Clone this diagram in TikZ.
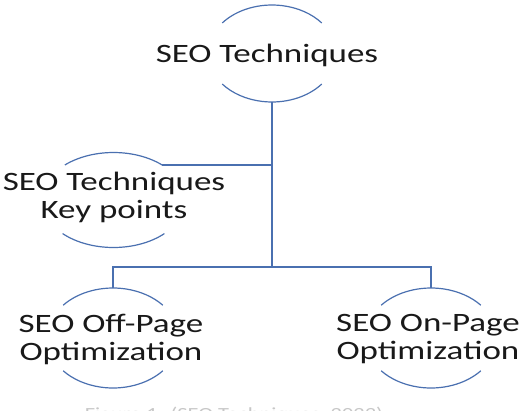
\documentclass[tikz,border=0pt]{standalone}
\usepackage{fontspec}
\setmainfont{Carlito}[FakeStretch=1.32]
\definecolor{lineblue}{RGB}{74,112,176}
\definecolor{txtcol}{RGB}{25,25,25}
\tikzset{
  arcline/.style={draw=lineblue,line width=1.2pt},
  conn/.style={draw=lineblue,line width=1.2pt},
  lbl/.style={font=\fontsize{26.5}{28}\selectfont,align=center,text=txtcol,inner sep=0pt},
}
\begin{document}
\begin{tikzpicture}[x=1pt,y=-1pt]
\useasboundingbox (0,0) rectangle (522,410);
\fill[white] (0,0) rectangle (522,410);
\clip (0,0) rectangle (522,410);
% top node
\coordinate (topc) at (272,53.5);
\draw[arcline] (topc) ++(219:64 and 48.5) arc[start angle=219,end angle=321,x radius=64,y radius=48.5];
\draw[arcline] (topc) ++(39:64 and 48.5) arc[start angle=39,end angle=141,x radius=64,y radius=48.5];
\node[lbl] (top) at (267,55.5) {SEO Techniques};
% left node
\coordinate (leftc) at (113.5,200);
\draw[arcline] (leftc) ++(227.5:72 and 47.5) arc[start angle=227.5,end angle=312.5,x radius=72,y radius=47.5];
\draw[arcline] (leftc) ++(45:72 and 47.5) arc[start angle=45,end angle=135,x radius=72,y radius=47.5];
\node[lbl] (left) at (114,197) {SEO Techniques\\Key points};
% bottom left node
\coordinate (blc) at (113,338);
\draw[arcline] (blc) ++(221:66 and 50) arc[start angle=221,end angle=319,x radius=66,y radius=50];
\draw[arcline] (blc) ++(41:66 and 50) arc[start angle=41,end angle=139,x radius=66,y radius=50];
\node[lbl] (offpage) at (111,339) {SEO Off-Page\\Optimization};
% bottom right node
\coordinate (brc) at (431,338);
\draw[arcline] (brc) ++(221:66 and 50) arc[start angle=221,end angle=319,x radius=66,y radius=50];
\draw[arcline] (brc) ++(41:66 and 50) arc[start angle=41,end angle=139,x radius=66,y radius=50];
\node[lbl] (onpage) at (428,339) {SEO On-Page\\Optimization};
% connector points
\coordinate (top-s) at (272,102);
\coordinate (j1) at (272,165);
\coordinate (j2) at (272,267);
\coordinate (left-ne) at (162,165);
\coordinate (bl-n) at (113,288);
\coordinate (br-n) at (431,288);
\draw[conn] (top-s) -- (j2);
\draw[conn] (j1) -- (left-ne);
\draw[conn] (bl-n) |- (j2) -| (br-n);
% cut-off caption
\node[font=\fontsize{17}{17}\selectfont,text=black!22,anchor=north,inner sep=0pt] (cap) at (234,406.5) {Figure 1: (SEO Techniques, 2023)};
\end{tikzpicture}
\end{document}
